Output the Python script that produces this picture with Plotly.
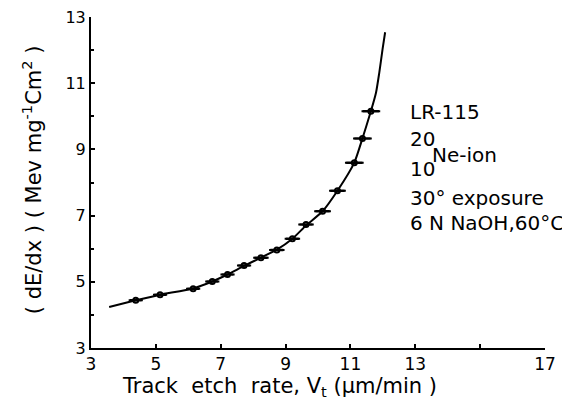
import plotly.graph_objects as go

# Measured points (track etch rate vs dE/dx)
vt = [4.38, 5.13, 6.15, 6.74, 7.21, 7.72, 8.24, 8.73, 9.21, 9.63, 10.14, 10.60, 11.12, 11.37, 11.63]
dedx = [4.44, 4.61, 4.79, 5.01, 5.22, 5.49, 5.73, 5.96, 6.30, 6.73, 7.13, 7.75, 8.60, 9.33, 10.15]
vt_err = [0.18, 0.18, 0.18, 0.18, 0.18, 0.18, 0.2, 0.2, 0.2, 0.2, 0.22, 0.22, 0.25, 0.25, 0.25]

# Fitted curve
curve_x = [3.56, 4.38, 5.13, 6.15, 6.74, 7.21, 7.72, 8.24, 8.73, 9.21, 9.63, 10.14, 10.60, 11.12, 11.37, 11.63, 11.79, 11.89, 11.99, 12.07]
curve_y = [4.24, 4.44, 4.61, 4.80, 5.01, 5.22, 5.48, 5.73, 5.97, 6.30, 6.70, 7.13, 7.75, 8.60, 9.33, 10.15, 10.72, 11.32, 12.02, 12.54]

x_tickvals = [3, 5, 7, 9, 11, 13, 15, 17]
x_ticktext = ["3", "5", "7", "9", "11", "13", "", "17"]
y_tickvals = [3, 5, 7, 9, 11, 13]
y_ticktext = ["3", "5", "7", "9", "11", "13"]

FONT = "DejaVu Sans"
NB = "\u00a0"

fig = go.Figure()
fig.add_trace(go.Scatter(
    x=curve_x, y=curve_y, mode="lines",
    line=dict(color="black", width=2, shape="spline", smoothing=0.6),
    hoverinfo="skip", showlegend=False))
fig.add_trace(go.Scatter(
    x=vt, y=dedx, mode="markers",
    marker=dict(symbol="circle-open", size=5, color="black", line=dict(width=2)),
    error_x=dict(type="data", array=vt_err, color="black", thickness=2.5, width=1),
    showlegend=False))

ann_font = dict(family=FONT, size=20, color="black")
anns = [
    dict(x=12.78, y=10.13, text="LR-115"),
    dict(x=12.78, y=9.32, text="20"),
    dict(x=13.45, y=8.82, text="Ne-ion"),
    dict(x=12.78, y=8.40, text="10"),
    dict(x=12.78, y=7.52, text="30°" + NB + "exposure"),
    dict(x=12.78, y=6.77, text="6" + NB + "N" + NB + "NaOH,60°C"),
]
for a in anns:
    fig.add_annotation(x=a["x"], y=a["y"], text=a["text"], xref="x", yref="y",
                       xanchor="left", yanchor="middle", showarrow=False, font=ann_font)

# Axis titles placed as annotations (positions as in the reference)
fig.add_annotation(
    x=0.416, y=-0.117, xref="paper", yref="paper", xanchor="center", yanchor="middle",
    showarrow=False, font=dict(family=FONT, size=21, color="black"),
    text="Track" + NB + NB + "etch" + NB + NB + "rate," + NB + "V<sub>t</sub>" + NB + "(μm/min" + NB + ")")
fig.add_annotation(
    x=-0.13, y=0.51, xref="paper", yref="paper", xanchor="center", yanchor="middle",
    showarrow=False, textangle=-90, font=dict(family=FONT, size=21, color="black"),
    text="(" + NB + "dE/dx" + NB + ")" + NB + "(" + NB + "Mev" + NB + "mg<sup>-1</sup>Cm<sup>2</sup>" + NB + ")")

fig.update_layout(
    width=570, height=412,
    margin=dict(l=83, r=33, t=9, b=72),
    paper_bgcolor="white", plot_bgcolor="white",
    font=dict(family=FONT, size=16, color="black"),
)
fig.update_xaxes(
    range=[3, 17], tickvals=x_tickvals, ticktext=x_ticktext, automargin=False,
    ticklabeloverflow="allow",
    ticks="inside", ticklen=4, tickwidth=2, tickcolor="black",
    showline=True, linecolor="black", linewidth=2, showgrid=False, zeroline=False,
    tickfont=dict(family=FONT, size=17),
)
fig.update_yaxes(
    range=[3, 13], tickvals=y_tickvals, ticktext=y_ticktext, automargin=False,
    ticklabeloverflow="allow",
    ticks="inside", ticklen=4, tickwidth=2, tickcolor="black",
    minor=dict(dtick=1, ticks="inside", ticklen=3, tickwidth=2, tickcolor="black"),
    showline=True, linecolor="black", linewidth=2, showgrid=False, zeroline=False,
    tickfont=dict(family=FONT, size=16),
)

fig.write_html("out.html")
